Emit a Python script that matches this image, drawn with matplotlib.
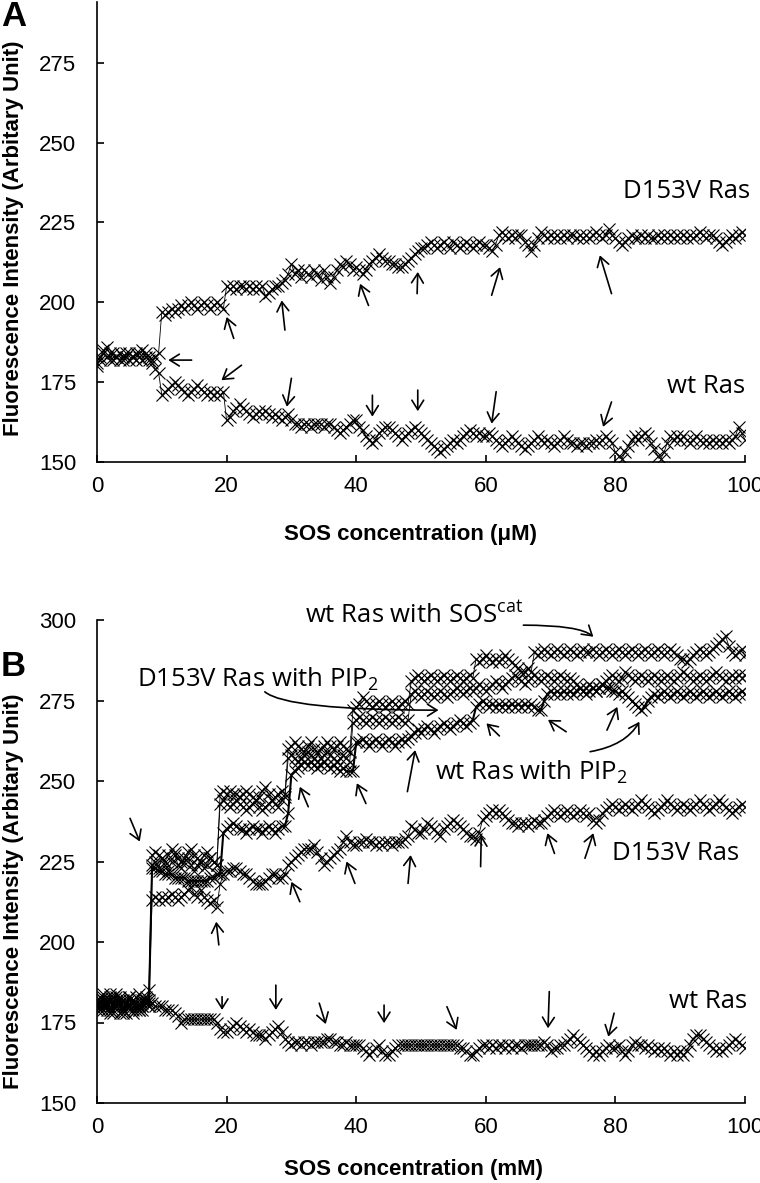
import numpy as np
import matplotlib
matplotlib.use("Agg")
import matplotlib.pyplot as plt

plt.rcParams['font.family'] = ['Liberation Sans', 'DejaVu Sans']
plt.rcParams['mathtext.fontset'] = 'custom'
plt.rcParams['mathtext.rm'] = 'Open Sans'
plt.rcParams['mathtext.it'] = 'Open Sans:italic'
plt.rcParams['mathtext.bf'] = 'Open Sans:bold'

# ---------------- data ----------------
conc = np.arange(0, 100.5, 0.5)  # SOS concentration grid (0.5 steps)

# Panel A
wt_A = [180,183,185,186,184,182,183,184,182,183,184,183,182,184,185,183,182,181,179,178,
        171,172,173,174,175,174,173,172,171,172,173,174,173,172,171,172,171,172,171,172,
        163,164,166,167,168,167,166,165,164,165,166,165,166,165,164,165,164,163,164,165,
        163,162,162,161,162,162,161,162,162,162,161,162,162,161,160,159,160,161,162,163,
        163,161,160,158,157,156,157,159,160,161,161,160,159,158,157,158,159,160,161,160,
        159,158,157,156,155,154,153,154,155,156,157,156,157,158,159,160,159,158,159,158,
        158,159,158,157,156,155,156,157,158,157,156,155,154,155,156,157,158,157,156,157,
        156,155,156,157,158,157,156,156,155,156,156,155,156,156,157,156,157,158,157,156,
        153,152,151,153,155,157,158,157,158,159,158,156,154,152,151,153,156,158,157,158,
        157,158,157,156,157,158,157,156,157,156,157,156,157,156,157,156,157,158,161,159,157]

d153v_A = [181,182,184,183,182,184,183,182,183,184,182,183,184,183,182,184,183,182,183,184,
           197,196,197,198,197,198,199,198,199,200,199,198,199,200,199,198,199,200,199,198,
           205,204,205,204,205,205,204,205,204,205,204,205,202,203,204,205,205,206,207,209,
           212,209,210,208,210,209,208,210,209,207,210,208,206,208,210,212,211,213,212,210,
           211,210,209,210,212,213,214,215,214,213,213,212,212,211,211,212,213,214,215,216,
           217,217,218,219,218,217,218,219,218,217,219,218,217,218,219,218,217,218,219,218,
           218,217,216,218,221,222,221,220,221,220,221,221,219,218,216,218,220,222,221,220,
           221,220,221,220,221,220,221,221,220,221,220,221,220,221,222,221,220,221,223,221,
           220,219,218,219,220,221,220,220,221,220,221,220,220,221,220,221,220,221,220,221,
           220,221,220,221,220,221,222,221,220,221,221,220,219,218,219,220,221,220,221,222,221]

# Panel B
wt_soscat_B = ([182,180,184,181,179,183,181,178,182,180,183,179,181,184,180,182] + [185] +
    [227,228,227,226,225,227,229,228,226,225,226,228,229,227,226,225,227,228,226,225,224] +
    [246,247,246,247,246,246,245,246,247,246,245,244,245,247,248,246,244,245,246,247,246] +
    [260,261,262,261,260,259,261,262,260,259,260,261,262,261,260,261,262,261,260,259] +
    [272,273,274,276,275,274,273,274,275,274,273,274,275,274,273,274,275,274] +
    [281,282,283,282,281,282,283,282,281,282,283,282,281,282,283,282,281,282,283,282] +
    [288,287,288,289,288,287,288,287,288,289,288,287] +
    [286,285,284,284,285,284] +
    [290,289,290,291,290,289,290,291,290,289,
     290,291,290,289,290,291,290,290,291,290,
     289,290,291,290,289,290,291,290,289,290,
     291,290,289,290,291,290,289,290,291,290,
     289,290,291,290,289,288,288,287,288,289,
     290,291,290,289,290,291,292,293,294,295,
     292,290,289,290,291,289])

d153v_pip2_B = ([179,183,180,182,184,179,181,183,180,178,182,181,183,180,179,181,182] +
    [224,225,223,226,224,222,225,227,224,223,225,226,224,222,224,225,223,224,226,225,224] +
    [243,244,243,242,243,244,243,242,241,242,243,244,242,241,242,243,244,243,242,244,245] +
    [257,258,257,256,257,258,259,258,257,256,257,258,259,258,257,256,257,258,257,256] +
    [268,269,270,269,268,269,270,269,268,269,270,269,268,269,270,269,268,269] +
    [277,278,277,276,277,278,277,276,277,278,277,276,277,278,279,278,277,278,279,278] +
    [279,280,279,278,279,280,281,280,279,280,
     281,282,283,282,281,280,281,282,283,282,
     281,282,283,282,281,282,283,282,281,282,
     281,280,279,278,279,280,279,278,279,280,
     281,282,283,282,281,282,284,283,282,281,
     282,283,282,281,282,283,282,281,282,283,
     282,281,282,283,284,283,282,281,282,283,
     282,281,282,283,284,283,282,281,282,283,
     282,283,282,283])

wt_pip2_B = ([180,181,183,179,182,180,184,181,178,180,183,182,180,179,181,183,180] +
    [223,223,222,222,221,221,221,220,220,220,220,219,219,219,219,219,219,219,220,220,221] +
    [221,234,235,236,237,236,235,235,234,235,236,235,235,234,235,236,235,234,235,236,236] +
    [240,252,253,254,255,256,255,256,255,254,255,256,255,254,255,254,253,254,253,253,253] +
    [262,262,263,262,261,262,263,262,261,262,263,262,261,262,263,262,263,264] +
    [265,266,265,266,267,266,265,266,267,268,267,266,267,268,269,268,267,268,269] +
    [273,274,275,274,273,274,273,274,273,274,
     273,274,273,274,273,274,273,274,273,272,
     272,275,277,278,277,278,277,278,277,278,
     277,278,279,278,277,278,279,278,279,280,
     279,279,278,278,277,278,277,276,275,274,
     273,272,273,275,276,277,276,277,278,277,
     276,277,278,277,276,277,278,277,276,277,
     278,277,276,277,278,277,276,277,278,277,
     276,277,278,277])

d153v_B = ([181,179,182,180,178,181,183,180,179,182,180,181,179,180,182,181,180] +
    [213,214,213,214,213,214,215,214,213,214,215,216,217,215,214,216,214,213,212,213,211] +
    [218,221] +
    [222,222,223,223,222,221,221,220,219,218,218,218,219,220,221,221,220,220,221,224] +
    [225,226,227,228,229,229,229,230,228,226,224,225,226,227,228,229,231,233,231,230] +
    [230,231,231,232,231,231,230,231,230,231,231,230,231,231,231,232,233,236,235,234] +
    [234,235,237,236,235,234,233,235,236,237,238,237,236,235,234,233,233,232,234,238] +
    [239,240,241,240,241,240,239,238,237,237,236,237,237,236,237,238,237,237,238,239] +
    [240,241,240,239,240,241,240,239,240,241,240,239,240,238,237,238,240,241,242,243] +
    [242,241,242,243,242,241,242,243,244,243,242,241,240,241,242,243,244,243,242,241] +
    [242,243,242,241,242,243,244,243,242,241,242,243,244,243,242,241,240,241,242,243,242])

wt_B = ([180,182,179,181,183,178,180,182,179,181,180,178,181,179,180,182] +
    [181,181,180,180] +
    [180,179,179,179,178,177,175,176,176,176,176,176,176,176,176,176,176,175,173,172] +
    [172,173,174,175,174,173,172,173,172,171,171,171,170,171,172,173,174,172,170,169] +
    [168,169,169,168,169,169,168,169,169,169,169,170,170,169,169,168,168,169,168,168] +
    [168,168,167,166,165,166,167,168,166,165,165,166,167,168,168,168,168,168,168,168] +
    [168,168,168,168,168,168,168,168,168,168,168,168,167,167,166,165,165,166,167,168] +
    [168,167,168,167,168,168,167,168,167,168,168,167,168,168,168,168,168,168,169,168] +
    [166,167,167,168,168,169,170,171,170,169,168,167,166,165,166,165,166,167,168,167] +
    [167,168,166,165,166,168,169,168,168,167,168,167,166,167,166,167,166,165,166,165] +
    [166,165,166,168,170,171,171,170,169,168,167,166,167,166,167,168,169,170,169,168,167])

for s in (wt_A, d153v_A, wt_soscat_B, d153v_pip2_B, wt_pip2_B, d153v_B, wt_B):
    assert len(s) == len(conc), len(s)

xticks = [0, 20, 40, 60, 80, 100]
yticks_A = [150, 175, 200, 225, 250, 275]
yticks_B = [150, 175, 200, 225, 250, 275, 300]

# arrows (tail -> head) in data coordinates
arrows_A = [((14.6, 181.9), (11.0, 181.9)), ((21.1, 188.7), (20.0, 195.4)),
            ((22.3, 180.3), (19.2, 175.6)), ((29.0, 191.3), (28.5, 200.6)),
            ((30.0, 176.2), (29.3, 167.3)), ((41.9, 199.0), (40.6, 205.8)),
            ((42.5, 170.9), (42.5, 164.2)), ((49.5, 172.5), (49.5, 165.9)),
            ((49.4, 202.7), (49.5, 209.5)), ((60.9, 202.2), (62.2, 211.0)),
            ((61.6, 172.0), (60.9, 162.0)), ((79.4, 202.7), (77.6, 214.7)),
            ((79.4, 168.8), (78.1, 161.0))]
arrows_B = [((5.1, 238.4), (6.6, 231.2)), ((18.8, 199.1), (18.4, 206.3)),
            ((32.6, 242.0), (31.3, 248.2)), ((41.5, 243.0), (40.1, 249.3)),
            ((47.9, 246.7), (49.1, 259.6)), ((31.3, 212.5), (30.0, 218.7)),
            ((39.8, 218.2), (38.5, 225.0)), ((48.0, 218.2), (48.4, 227.0)),
            ((62.1, 264.0), (60.1, 267.9)), ((72.4, 265.3), (69.6, 269.0)),
            ((78.7, 265.8), (80.3, 273.0)), ((59.2, 223.4), (59.3, 233.2)),
            ((70.6, 227.5), (69.5, 233.8)), ((75.3, 226.0), (76.6, 233.8)),
            ((19.3, 183.0), (19.3, 178.9)), ((27.6, 186.6), (27.6, 178.9)),
            ((34.3, 181.0), (35.3, 174.5)), ((44.3, 180.4), (44.3, 174.8)),
            ((54.0, 179.9), (55.5, 172.7)), ((69.8, 184.6), (69.6, 173.2)),
            ((79.8, 177.9), (78.9, 170.6))]

# ---------------- figure ----------------
W, H = 760, 1183
fig = plt.figure(figsize=(W / 100, H / 100), dpi=100)
axA = fig.add_axes([97 / W, 1 - 462 / H, 648 / W, 460 / H])
axB = fig.add_axes([97 / W, 1 - 1103 / H, 648 / W, 483 / H])

line_kw = dict(color='black', lw=0.6, marker='x', ms=8, mew=0.8)
axA.plot(conc, wt_A, **line_kw)
axA.plot(conc, d153v_A, **line_kw)
axB.plot(conc, wt_B, **line_kw)
axB.plot(conc, d153v_B, **line_kw)
axB.plot(conc, d153v_pip2_B, **line_kw)
axB.plot(conc, wt_soscat_B, **line_kw)
kw3 = dict(line_kw)
kw3['lw'] = 1.5
axB.plot(conc, wt_pip2_B, **kw3)

for ax, yt, yl in ((axA, yticks_A, (150, 294)), (axB, yticks_B, (150, 300))):
    ax.set_xlim(0, 100)
    ax.set_ylim(*yl)
    ax.set_xticks(xticks)
    ax.set_yticks(yt)
    for sp in ('top', 'right'):
        ax.spines[sp].set_visible(False)
    for sp in ('left', 'bottom'):
        ax.spines[sp].set_linewidth(1.2)
    ax.tick_params(axis='both', direction='in', length=5, width=1.2, labelsize=16)
    ax.tick_params(axis='y', pad=15)
    ax.tick_params(axis='x', pad=10)

arrow_props = dict(arrowstyle='->,head_length=0.4,head_width=0.25', lw=1.2,
                   color='black', shrinkA=0, shrinkB=0, mutation_scale=17)
for ax, arrs in ((axA, arrows_A), (axB, arrows_B)):
    for tail, head in arrs:
        ax.annotate('', xy=head, xytext=tail, arrowprops=arrow_props,
                    annotation_clip=False)

tfont = dict(family='Open Sans', fontsize=18.5, color='black')
axA.text(100.8, 232.8, 'D153V Ras', ha='right', va='baseline', clip_on=False, **tfont)
axA.text(100.0, 171.6, 'wt Ras', ha='right', va='baseline', clip_on=False, **tfont)

axB.text(79.4, 225.5, 'D153V Ras', ha='left', va='baseline', clip_on=False, **tfont)
axB.text(100.4, 179.5, 'wt Ras', ha='right', va='baseline', clip_on=False, **tfont)
axB.text(32.1, 299.1, r'wt Ras with SOS$^{\mathrm{cat}}$', ha='left', va='baseline',
         clip_on=False, **tfont)
axB.text(6.2, 279.2, r'D153V Ras with PIP$_{\mathrm{2}}$', ha='left', va='baseline',
         clip_on=False, **tfont)
axB.text(52.2, 250.3, r'wt Ras with PIP$_{\mathrm{2}}$', ha='left', va='baseline',
         clip_on=False, **tfont)

curve_props = dict(arrow_props)
cp = dict(curve_props, connectionstyle='angle3,angleA=0,angleB=-40')
axB.annotate('', xy=(76.6, 294.8), xytext=(65.8, 298.4), arrowprops=cp, annotation_clip=False)
cp = dict(curve_props, connectionstyle='angle3,angleA=-40,angleB=0')
axB.annotate('', xy=(52.7, 272.0), xytext=(25.9, 277.7), arrowprops=cp, annotation_clip=False)
cp = dict(curve_props, connectionstyle='angle3,angleA=10,angleB=60')
axB.annotate('', xy=(83.7, 268.4), xytext=(76.1, 259.1), arrowprops=cp, annotation_clip=False)

ylab = 'Fluorescence Intensity (Arbitary Unit)'
fig.text(14 / W, 1 - 238 / H, ylab, rotation=90, ha='center', va='center',
         fontsize=16, fontweight='bold')
fig.text(14 / W, 1 - 891 / H, ylab, rotation=90, ha='center', va='center',
         fontsize=16, fontweight='bold')
fig.text(410 / W, 1 - 535 / H, 'SOS concentration (\u03bcM)', ha='center', va='center',
         fontsize=16, fontweight='bold')
fig.text(414 / W, 1 - 1169 / H, 'SOS concentration (mM)', ha='center', va='center',
         fontsize=16, fontweight='bold')
fig.text(1 / W, 1 - 0 / H, 'A', ha='left', va='top', fontsize=25, fontweight='bold')
fig.text(1 / W, 1 - 650 / H, 'B', ha='left', va='top', fontsize=25, fontweight='bold')

fig.savefig('out.png', dpi=100, facecolor='white')
